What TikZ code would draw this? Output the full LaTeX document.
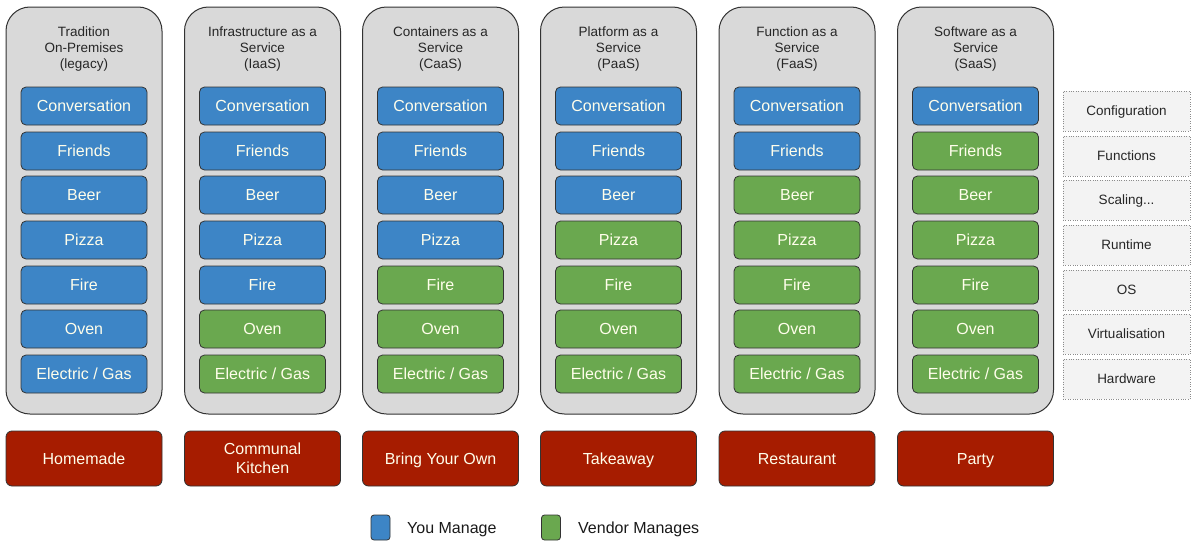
\documentclass[tikz,border=0pt]{standalone}
\usepackage{fontspec}
\setmainfont{Liberation Sans}
\definecolor{cblue}{HTML}{3D85C6}
\definecolor{cgreen}{HTML}{6AA84F}
\definecolor{cred}{HTML}{A61C00}
\definecolor{colgray}{HTML}{D9D9D9}
\definecolor{panelgray}{HTML}{F3F3F3}
\definecolor{edge}{HTML}{333333}
\begin{document}
\begin{tikzpicture}[x=1pt,y=-1pt,
  column/.style={draw=edge, fill=colgray, rounded corners=24pt, line width=1pt, minimum width=156pt, minimum height=407pt, inner sep=0pt},
  head/.style={align=center, font=\fontsize{13.5}{16}\selectfont, text=black!85},
  layer/.style={draw=edge, rounded corners=5pt, line width=0.8pt, minimum width=126pt, minimum height=38pt, inner sep=0pt, text height=11.5pt, text depth=0pt, text=white!92!yellow, font=\fontsize{16}{18}\selectfont},
  you/.style={layer, fill=cblue},
  vendor/.style={layer, fill=cgreen},
  analogy/.style={draw=edge, fill=cred, rounded corners=6pt, line width=0.8pt, minimum width=156pt, minimum height=55pt, inner sep=0pt, align=center, text=white!92!yellow, font=\fontsize{16}{19}\selectfont},
  oneline/.style={text height=11.5pt, text depth=0pt},
  twoline/.style={},
  panel/.style={draw=black!45, dotted, fill=panelgray, minimum width=127pt, minimum height=40pt, inner sep=0pt, text height=9.7pt, text depth=0pt, font=\fontsize{13.5}{16}\selectfont, text=black!85},
  legendbox/.style={draw=edge, rounded corners=3pt, line width=0.8pt, minimum width=19pt, minimum height=25pt, inner sep=0pt},
  legendtext/.style={anchor=west, inner sep=0pt, text height=11.5pt, text depth=0pt, font=\fontsize{16}{18}\selectfont, text=black!90}
]
\useasboundingbox (0,0) rectangle (1194,554);
\foreach \c/\cx/\g/\title/\an/\st in {
  1/84/0/{Tradition\\On-Premises\\(legacy)}/{Homemade}/oneline,
  2/262.5/2/{Infrastructure as a\\Service\\(IaaS)}/{Communal\\Kitchen}/twoline,
  3/440.5/3/{Containers as a\\Service\\(CaaS)}/{Bring Your Own}/oneline,
  4/618.5/4/{Platform as a\\Service\\(PaaS)}/{Takeaway}/oneline,
  5/797/5/{Function as a\\Service\\(FaaS)}/{Restaurant}/oneline,
  6/975.5/6/{Software as a\\Service\\(SaaS)}/{Party}/oneline} {
  \node[column] (col\c) at (\cx,210.5) {};
  \node[head] (head\c) at (\cx,49) {\title};
  \foreach \r/\y/\t in {1/106/{Conversation},2/151/{Friends},3/195/{Beer},4/240/{Pizza},5/285/{Fire},6/329/{Oven},7/374/{Electric / Gas}} {
    \pgfmathtruncatemacro{\isv}{\r > 7-\g ? 1 : 0}
    \ifnum\isv=1
      \node[vendor] (l\c-\r) at (\cx,\y) {\t};
    \else
      \node[you] (l\c-\r) at (\cx,\y) {\t};
    \fi
  }
  \node[analogy, \st] (an\c) at (\cx,458.5) {\an};
}
\foreach \i/\y/\t in {1/111/{Configuration},2/156/{Functions},3/200/{Scaling...},4/245/{Runtime},5/290/{OS},6/334/{Virtualisation},7/379/{Hardware}} {
  \node[panel] (p\i) at (1126.5,\y) {\t};
}
\node[legendbox, fill=cblue] (lgyou) at (380.5,527.5) {};
\node[legendtext] (lgyout) at (407,527.5) {You Manage};
\node[legendbox, fill=cgreen] (lgven) at (551,527.5) {};
\node[legendtext] (lgvent) at (578,527.5) {Vendor Manages};
\end{tikzpicture}
\end{document}
